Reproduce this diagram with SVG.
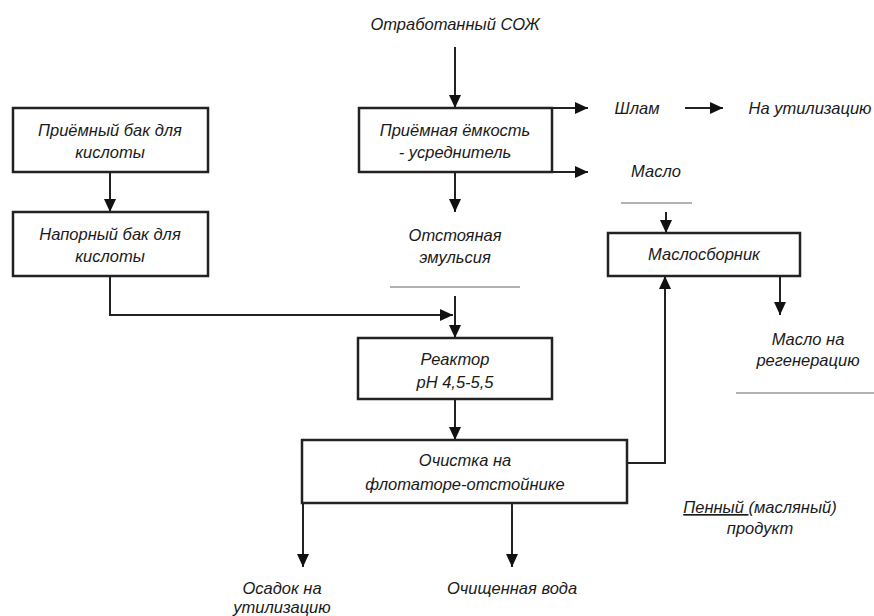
<svg xmlns="http://www.w3.org/2000/svg" width="874" height="616" viewBox="0 0 874 616">
<style>
text{font-family:"Liberation Sans",Arial,sans-serif;font-style:italic;font-size:16.5px;fill:#1a1a1a;text-anchor:middle}
.box{fill:#fff;stroke:#222;stroke-width:2.5}
.ln{fill:none;stroke:#222;stroke-width:2}
.rule{fill:none;stroke:#666;stroke-width:1}
.arr{marker-end:url(#ah)}
</style>
<defs>
<marker id="ah" markerUnits="userSpaceOnUse" markerWidth="14" markerHeight="12" refX="13" refY="6" orient="auto">
<path d="M0,0 L13,6 L0,12 Z" fill="#111"/>
</marker>
</defs>
<rect width="874" height="616" fill="#fff"/>
<g id="connectors">
<path class="ln arr" d="M110,172 V212"/>
<path class="ln arr" d="M110,276 V315 H453"/>
<path class="ln arr" d="M455,296 V338"/>
<path class="ln arr" d="M455,47 V108"/>
<path class="ln arr" d="M455,172 V212"/>
<path class="ln arr" d="M552,108 H588"/>
<path class="ln arr" d="M552,172 H588"/>
<path class="ln" d="M552,108 V172"/>
<path class="ln arr" d="M685,108 H723"/>
<path class="ln arr" d="M666,212 V233"/>
<path class="ln arr" d="M627,463 H665 V276"/>
<path class="ln arr" d="M780,276 V315"/>
<path class="ln arr" d="M455,399 V440"/>
<path class="ln arr" d="M303,503 V567"/>
<path class="ln arr" d="M512,503 V567"/>
</g>
<g id="rules">
<line class="rule" x1="390" y1="287" x2="520" y2="287"/>
<line class="rule" x1="621" y1="203" x2="692" y2="203"/>
<line class="rule" x1="736" y1="393" x2="874" y2="393"/>
</g>
<g id="n1"><rect class="box" x="13" y="108" width="195" height="64"/>
<text x="110" y="136">Приёмный бак для</text><text x="110" y="158">кислоты</text></g>
<g id="n2"><rect class="box" x="13" y="212" width="195" height="64"/>
<text x="110" y="240">Напорный бак для</text><text x="110" y="262">кислоты</text></g>
<g id="n3"><rect class="box" x="359" y="108" width="193" height="64"/>
<text x="455" y="136">Приёмная ёмкость</text><text x="455" y="158">- усреднитель</text></g>
<g id="n4"><rect class="box" x="608" y="233" width="192" height="43"/>
<text x="704" y="260">Маслосборник</text></g>
<g id="n5"><rect class="box" x="358" y="338" width="194" height="61"/>
<text x="455" y="365">Реактор</text><text x="455" y="388">pH 4,5-5,5</text></g>
<g id="n6"><rect class="box" x="302" y="440" width="325" height="63"/>
<text x="465" y="466">Очистка на</text><text x="465" y="490">флотаторе-отстойнике</text></g>
<g id="labels">
<text x="455" y="30">Отработанный СОЖ</text>
<text x="455" y="241">Отстояная</text><text x="455" y="263">эмульсия</text>
<text x="637" y="114">Шлам</text>
<text x="810" y="114">На утилизацию</text>
<text x="656" y="177">Масло</text>
<text x="808" y="345">Масло на</text><text x="808" y="366">регенерацию</text>
<text x="760" y="513"><tspan text-decoration="underline">Пенный </tspan>(масляный)</text><text x="760" y="534">продукт</text>
<text x="282" y="594">Осадок на</text><text x="282" y="613">утилизацию</text>
<text x="512" y="594">Очищенная вода</text>
</g>
</svg>
